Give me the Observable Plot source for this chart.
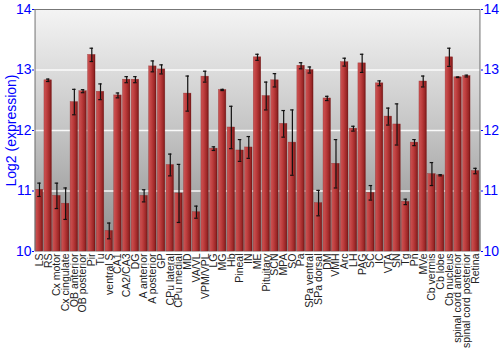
<!DOCTYPE html>
<html><head><meta charset="utf-8">
<script src="https://cdn.jsdelivr.net/npm/d3@7"></script>
<script src="https://cdn.jsdelivr.net/npm/@observablehq/plot@0.6"></script>
<style>body{margin:0;background:#fff;font-family:"Liberation Sans",Arial,sans-serif}</style>
</head><body><div id="chart"></div>
<script>
const regions = ["LS","RS","Cx motor","Cx cingulate","OB anterior","OB posterior","Pir","Tu","ventral S","CA1","CA2/CA3","DG","A anterior","A posterior","GP","CPu lateral","CPu medial","MD","VA/VL","VPM/VPL","LG","MG","Hb","Pineal","IN","ME","Pituitary","SCN","MPA","SO","Pa","SPa ventral","SPa dorsal","DM","VMH","Arc","LH","PAG","SC","IC","VTA","SN","Tg","Pn","MVe","Cb vermis","Cb lobe","Cb nucleus","spinal cord anterior","spinal cord posterior","Retina"];
const means = [11.02,12.83,10.92,10.79,12.47,12.65,13.25,12.64,10.34,12.58,12.84,12.84,10.92,13.06,13.01,11.43,10.96,12.61,10.65,12.89,11.70,12.67,12.05,11.67,11.72,13.21,12.57,12.83,12.11,11.80,13.07,13.00,10.80,12.53,11.45,13.13,12.03,13.11,10.97,12.78,12.23,12.10,10.82,11.80,12.81,11.28,11.26,13.21,12.88,12.90,11.33];
const errors = [0.11,0.02,0.21,0.26,0.21,0.025,0.11,0.13,0.13,0.04,0.05,0.05,0.10,0.09,0.075,0.18,0.48,0.29,0.10,0.09,0.03,0.01,0.35,0.18,0.18,0.05,0.23,0.11,0.22,0.54,0.05,0.05,0.21,0.035,0.40,0.065,0.04,0.15,0.12,0.04,0.14,0.34,0.045,0.05,0.09,0.19,0.01,0.15,0.005,0.015,0.045];
const yTicks = [10,11,12,13,14];
const gridTicks = [11,12,13];

const data = regions.map((r,i)=>({region:r, mean:means[i], lo:means[i]-errors[i], hi:means[i]+errors[i]}));
const blue = "#0000ff";

const chart = Plot.plot({
  width: 500, height: 350,
  marginLeft: 34, marginRight: 20, marginTop: 9, marginBottom: 99,
  style: {fontFamily: "'Liberation Sans', Arial, sans-serif", background: "transparent"},
  x: {domain: regions, padding: 0.14, label: null},
  y: {domain: [10, 14], label: null},
  marks: [
    Plot.frame({fill: "url(#bgGrad)", stroke: null}),
    Plot.ruleY(gridTicks, {stroke: "#ffffff", strokeWidth: 1.5, strokeOpacity: 0.9}),
    Plot.barY(data, {x: "region", y1: 10, y2: "mean", fill: "url(#barGrad)", stroke: "#8a2020", strokeWidth: 0.5, strokeOpacity: 0.6}),
    Plot.ruleX(data, {x: "region", y1: "lo", y2: "hi", stroke: "#111", strokeWidth: 1.2}),
    Plot.tickY(data, {x: "region", y: "lo", stroke: "#111", strokeWidth: 1.2, insetLeft: 2, insetRight: 2}),
    Plot.tickY(data, {x: "region", y: "hi", stroke: "#111", strokeWidth: 1.2, insetLeft: 2, insetRight: 2}),
    Plot.ruleY([14], {stroke: "#777", strokeWidth: 1}),
    Plot.axisY({anchor: "left", ticks: yTicks, tickFormat: d => d, fontSize: 14, color: blue, tickSize: 2, tickPadding: 1, label: "Log2 (expression)", labelAnchor: "center", labelOffset: 28, labelArrow: "none"}),
    Plot.axisY({anchor: "right", ticks: yTicks, tickFormat: d => d, fontSize: 14, color: blue, tickSize: 2, tickPadding: 1, label: null}),
    Plot.ruleX([regions[0]], {stroke: "#777", dx: -4.4}),
    Plot.ruleX([regions[regions.length-1]], {stroke: "#777", dx: 4.4}),
    Plot.axisX({anchor: "bottom", tickRotate: -90, tickSize: 0, tickPadding: 2, fontSize: 10.5, color: "#222", label: null})
  ]
});

const ns = "http://www.w3.org/2000/svg";
const defs = document.createElementNS(ns, "defs");
defs.innerHTML = `
<linearGradient id="bgGrad" x1="0" y1="0" x2="0" y2="1">
  <stop offset="0" stop-color="#f4f4f4"/>
  <stop offset="0.5" stop-color="#c4c4c4"/>
  <stop offset="1" stop-color="#8c8c8c"/>
</linearGradient>
<linearGradient id="barGrad" x1="0" y1="0" x2="1" y2="0">
  <stop offset="0" stop-color="#cc5555"/>
  <stop offset="0.4" stop-color="#bd3d3d"/>
  <stop offset="0.8" stop-color="#9a2626"/>
  <stop offset="1" stop-color="#6e1414"/>
</linearGradient>`;
chart.insertBefore(defs, chart.firstChild);
document.getElementById("chart").appendChild(chart);
</script>
</body></html>
